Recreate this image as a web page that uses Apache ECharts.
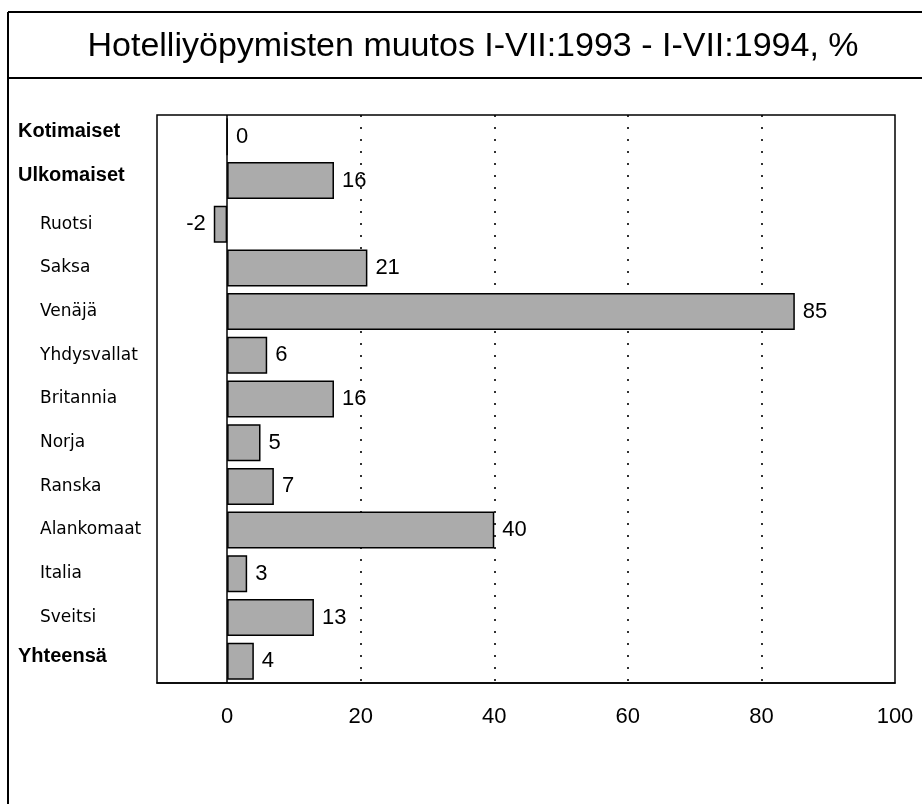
<!DOCTYPE html>
<html>
<head>
<meta charset="utf-8">
<script src="https://cdn.jsdelivr.net/npm/echarts@6/dist/echarts.min.js"></script>
<style>
html,body{margin:0;padding:0;background:#fff;}
#main{width:922px;height:804px;}
</style>
</head>
<body>
<div id="main"></div>
<script>
var titleText = 'Hotelliyöpymisten muutos I-VII:1993 - I-VII:1994, %';
var categories = ['Kotimaiset','Ulkomaiset','Ruotsi','Saksa','Venäjä','Yhdysvallat','Britannia','Norja','Ranska','Alankomaat','Italia','Sveitsi','Yhteensä'];
var boldCategories = ['Kotimaiset','Ulkomaiset','Yhteensä'];
var values = [0,16,-2,21,85,6,16,5,7,40,3,13,4];
var gridLines = [20,40,60,80];
var tickLabels = [0,20,40,60,80,100];

var chart = echarts.init(document.getElementById('main'), null, {renderer:'canvas'});

var seriesData = values.map(function(v){
  return {
    value: v,
    label: { position: v < 0 ? 'left' : 'right' }
  };
});

var gridMarks = gridLines.map(function(g){
  return { xAxis: g, lineStyle: { type: [2, 10], color: '#000', width: 1.6 } };
});
var zeroMark = [{ xAxis: 0, lineStyle: { type: 'solid', color: '#000', width: 1.5 } }];

chart.setOption({
  backgroundColor: '#fff',
  animation: false,
  title: {
    text: titleText,
    left: 468,
    textAlign: 'center',
    top: 25,
    textStyle: {
      fontFamily: '"Liberation Sans Narrow", "Arial Narrow", "Liberation Sans", sans-serif',
      fontWeight: 'normal',
      fontSize: 34,
      color: '#000'
    }
  },
  graphic: [
    { type: 'line', shape: { x1: 8, y1: 12, x2: 922, y2: 12 }, style: { stroke: '#000', lineWidth: 2 } },
    { type: 'line', shape: { x1: 8, y1: 78, x2: 922, y2: 78 }, style: { stroke: '#000', lineWidth: 2 } },
    { type: 'line', shape: { x1: 8, y1: 12, x2: 8, y2: 804 }, style: { stroke: '#000', lineWidth: 2 } }
  ],
  grid: {
    left: 157, right: 27, top: 115, bottom: 121,
    show: true, borderColor: '#000', borderWidth: 1.5, backgroundColor: 'transparent'
  },
  xAxis: {
    type: 'value',
    min: -10.5, max: 100,
    axisLine: { show: true, lineStyle: { color: '#000', width: 1.5 } },
    axisTick: { show: false },
    splitLine: { show: false },
    axisLabel: {
      customValues: tickLabels,
      margin: 23,
      fontSize: 22,
      color: '#000',
      fontFamily: '"Liberation Sans", Arial, sans-serif'
    }
  },
  yAxis: {
    type: 'category',
    data: categories,
    inverse: true,
    axisLine: { show: false },
    axisTick: { show: false },
    axisLabel: {
      align: 'left',
      margin: 139,
      formatter: function(v){
        return boldCategories.indexOf(v) >= 0 ? '{b|' + v + '}' : '{n|' + v + '}';
      },
      rich: {
        b: { fontFamily: '"Liberation Sans", Arial, sans-serif', fontWeight: 'bold', fontSize: 20, color: '#000', padding: [0,0,10,0] },
        n: { fontFamily: '"DejaVu Sans", sans-serif', fontSize: 17, color: '#000', padding: [0,0,0,22] }
      }
    }
  },
  series: [{
    type: 'line',
    data: [],
    z: 1,
    silent: true,
    markLine: {
      z: 1,
      silent: true,
      symbol: 'none',
      label: { show: false },
      data: gridMarks
    }
  }, {
    type: 'bar',
    data: seriesData,
    barWidth: 37,
    z: 3,
    itemStyle: { color: '#ababab', borderColor: '#000', borderWidth: 1.5 },
    label: {
      show: true,
      distance: 8,
      fontSize: 22,
      color: '#000',
      fontFamily: '"Liberation Sans", Arial, sans-serif'
    },
    markLine: {
      z: 4,
      silent: true,
      symbol: 'none',
      label: { show: false },
      data: zeroMark
    }
  }]
});
</script>
</body>
</html>
